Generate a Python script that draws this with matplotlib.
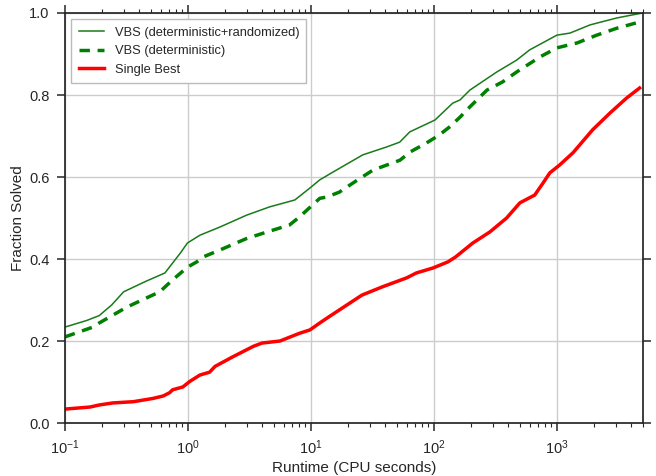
import numpy as np
import matplotlib
matplotlib.use('Agg')
import matplotlib.pyplot as plt

# runtime (CPU s) vs fraction solved
vbsAllX = [0.1, 0.15, 0.19, 0.24, 0.3, 0.45, 0.65, 0.87, 0.99, 1.25, 1.82, 3.0, 4.6, 7.4,
           9.8, 11.8, 15.1, 26.4, 41, 52.7, 63.6, 102, 142, 163, 196, 324, 470, 600,
           1000, 1276, 1860, 3080, 4950]
vbsAllY = [0.234, 0.25, 0.262, 0.288, 0.32, 0.345, 0.366, 0.415, 0.439, 0.458, 0.478, 0.507, 0.527, 0.544,
           0.573, 0.593, 0.612, 0.654, 0.673, 0.685, 0.710, 0.739, 0.78, 0.788, 0.812, 0.856, 0.885, 0.91,
           0.946, 0.951, 0.971, 0.988, 1.0]

vbsDetX = [0.1, 0.169, 0.19, 0.232, 0.32, 0.46, 0.59, 0.75, 0.99, 1.18, 1.33, 1.82, 3.0, 4.4,
           6.7, 8.1, 11.8, 13.4, 17, 24, 32, 53, 64, 87, 110, 134, 163, 196, 270, 362,
           470, 730, 1000, 1460, 2110, 3080, 4700]
vbsDetY = [0.21, 0.234, 0.244, 0.259, 0.283, 0.305, 0.32, 0.349, 0.38, 0.393, 0.405, 0.422, 0.45, 0.466,
           0.483, 0.503, 0.548, 0.551, 0.563, 0.593, 0.617, 0.641, 0.661, 0.683, 0.702, 0.722, 0.746, 0.771, 0.812, 0.832,
           0.856, 0.893, 0.915, 0.927, 0.946, 0.963, 0.978]

singleX = [0.1, 0.16, 0.19, 0.245, 0.36, 0.52, 0.63, 0.71, 0.75, 0.91, 1.03, 1.25, 1.5, 1.66,
           2.3, 3.4, 4.0, 5.6, 8.1, 9.8, 11.8, 14, 26, 38, 60, 72, 98, 130, 150, 207,
           285, 390, 500, 660, 770, 875, 1050, 1350, 1950, 2700, 3700, 4700]
singleY = [0.034, 0.039, 0.044, 0.049, 0.052, 0.060, 0.066, 0.074, 0.081, 0.088, 0.101, 0.117, 0.124, 0.138,
           0.161, 0.187, 0.195, 0.2, 0.219, 0.227, 0.244, 0.259, 0.312, 0.332, 0.354, 0.366, 0.378, 0.393, 0.405, 0.439,
           0.466, 0.5, 0.537, 0.556, 0.585, 0.61, 0.629, 0.659, 0.715, 0.756, 0.793, 0.817]

plt.rcParams['font.family'] = ['Liberation Sans', 'DejaVu Sans']
plt.rcParams['mathtext.fontset'] = 'custom'
plt.rcParams['mathtext.rm'] = 'Liberation Sans'
plt.rcParams['mathtext.it'] = 'Liberation Sans:italic'
plt.rcParams['axes.unicode_minus'] = False
textCol = '#262626'

fig = plt.figure(figsize=(6.56, 4.76), dpi=100)
ax = fig.add_axes([0.099, 0.1113, 0.881, 0.8614])

ax.plot(vbsAllX, vbsAllY, color='#1a7a1a', lw=1.1, label='VBS (deterministic+randomized)')
ax.plot(vbsDetX, vbsDetY, color='#008000', lw=2.5, ls=(0, (3, 2.2)), label='VBS (deterministic)')
ax.plot(singleX, singleY, color='red', lw=2.5, label='Single Best')

ax.set_xscale('log')
ax.set_xlim(0.1, 5000)
ax.set_ylim(0, 1.0)
ax.set_yticks([0, 0.2, 0.4, 0.6, 0.8, 1.0])
ax.set_yticklabels(['0.0', '0.2', '0.4', '0.6', '0.8', '1.0'])
ax.grid(True, which='major', color='#cccccc', lw=1)
ax.set_axisbelow(True)

for s in ax.spines.values():
    s.set_color('#262626')
    s.set_linewidth(1.25)

ax.tick_params(which='major', direction='out', length=6, width=1.1, color='#262626',
               labelsize=10.5, labelcolor=textCol, top=True, right=True, pad=5)
ax.tick_params(which='minor', direction='out', length=3, width=0.8, color='#262626',
               top=True, right=False)
ax.tick_params(axis='y', which='minor', left=False, right=False)

ax.set_xlabel('Runtime (CPU seconds)', fontsize=11, color=textCol, labelpad=3)
ax.set_ylabel('Fraction Solved', fontsize=11, color=textCol, labelpad=3)

leg = ax.legend(loc='upper left', fontsize=9.3, fancybox=False, framealpha=1,
                edgecolor='#bbbbbb', borderpad=0.55, handlelength=2.0, labelspacing=0.5,
                handletextpad=0.8)
for t in leg.get_texts():
    t.set_color(textCol)

fig.savefig('out.png', dpi=100)
